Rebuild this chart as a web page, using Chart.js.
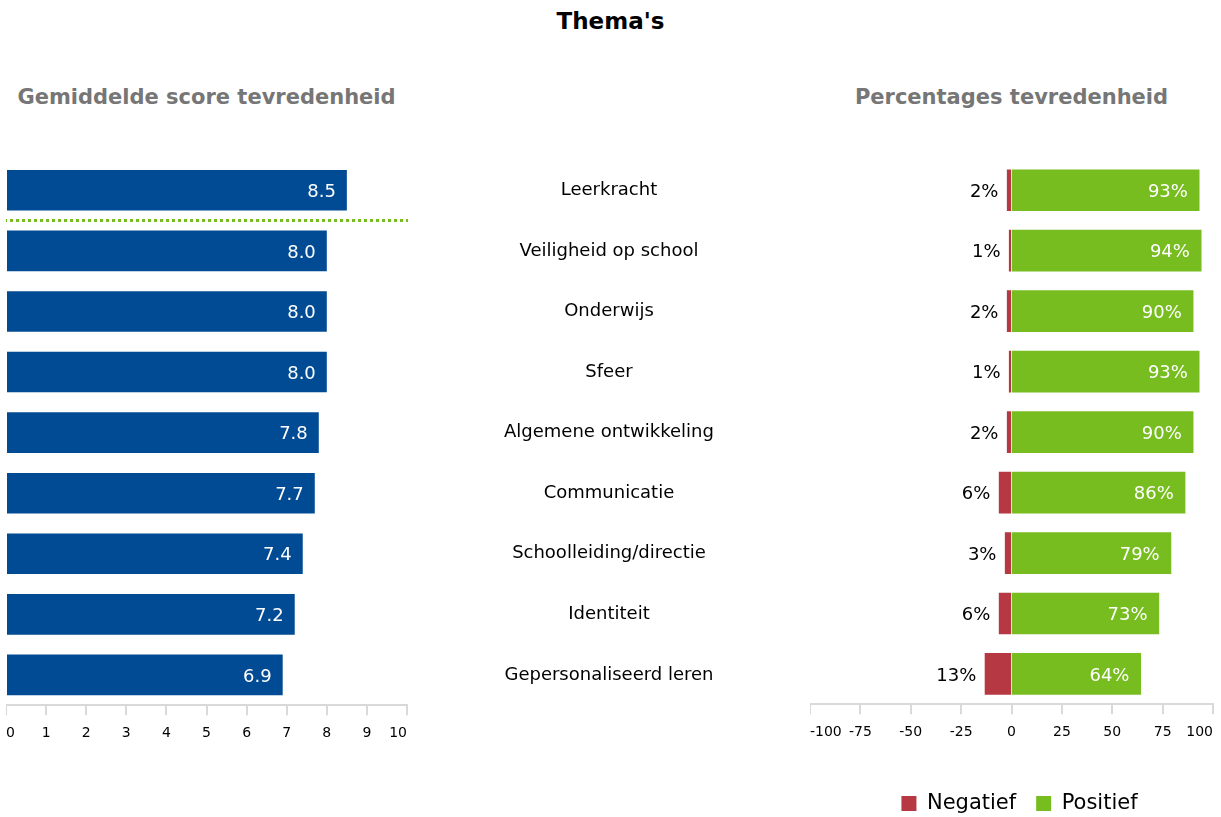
<!DOCTYPE html>
<html>
<head>
<meta charset="utf-8">
<script src="https://cdn.jsdelivr.net/npm/chart.js@4.4.1/dist/chart.umd.min.js"></script>
<style>
  body { margin: 0; background: #fff; font-family: "DejaVu Sans", sans-serif; }
  #pagina { position: relative; width: 1221px; height: 817px; overflow: hidden; }
  .kop { position: absolute; font-weight: bold; white-space: nowrap; text-align: center; }
  #titel { top: 8px; left: 0; width: 1221px; font-size: 23px; color: #000; }
  #sub1 { top: 85px; left: 6px; width: 401px; font-size: 21px; color: #767676; }
  #sub2 { top: 85px; left: 810px; width: 403px; font-size: 21px; color: #767676; }
  #links { position: absolute; left: 6px; top: 160px; width: 804px; height: 592px; }
  #rechts { position: absolute; left: 810px; top: 160px; width: 411px; height: 664px; }
</style>
</head>
<body>
<div id="pagina">
  <div id="titel" class="kop">Thema's</div>
  <div id="sub1" class="kop">Gemiddelde score tevredenheid</div>
  <div id="sub2" class="kop">Percentages tevredenheid</div>
  <div id="links"><canvas id="scoreChart"></canvas></div>
  <div id="rechts"><canvas id="procentChart"></canvas></div>
</div>
<script>
// gegevens
const themas = [
  "Leerkracht", "Veiligheid op school", "Onderwijs", "Sfeer",
  "Algemene ontwikkeling", "Communicatie", "Schoolleiding/directie",
  "Identiteit", "Gepersonaliseerd leren"
];
const gemiddeldeScore = [8.5, 8.0, 8.0, 8.0, 7.8, 7.7, 7.4, 7.2, 6.9];
const negatief = [2, 1, 2, 1, 2, 6, 3, 6, 13];
const positief = [93, 94, 90, 93, 90, 86, 79, 73, 64];

const BLAUW = "#004b93";
const GROEN = "#77bd1f";
const ROOD = "#b53843";
const GRIJS = "#d9d9d9";

Chart.defaults.font.family = '"DejaVu Sans", sans-serif';
Chart.defaults.color = "#000";

// labels op de balken
const waardeLabels = {
  id: "waardeLabels",
  afterDatasetsDraw(chart, args, opts) {
    const ctx = chart.ctx;
    ctx.save();
    ctx.font = '18px "DejaVu Sans"';
    ctx.textBaseline = "middle";
    ctx.textAlign = "right";
    chart.data.datasets.forEach((ds, i) => {
      chart.getDatasetMeta(i).data.forEach((bar, j) => {
        const v = ds.data[j];
        if (v < 0) {
          ctx.fillStyle = "#000";
          ctx.fillText(opts.fmt(-v), bar.x - 9, bar.y + 2);
        } else {
          ctx.fillStyle = "#fff";
          ctx.fillText(opts.fmt(v), bar.x - 11, bar.y + 2);
        }
      });
    });
    ctx.restore();
  }
};

// gestippelde lijn tussen twee thema's
const stippelLijn = {
  id: "stippelLijn",
  afterDatasetsDraw(chart, args, opts) {
    const y = chart.scales.y;
    const yp = (y.getPixelForValue(opts.na) + y.getPixelForValue(opts.na + 1)) / 2;
    const ctx = chart.ctx;
    ctx.save();
    ctx.strokeStyle = GROEN;
    ctx.lineWidth = 3;
    ctx.setLineDash([3, 3]);
    ctx.beginPath();
    ctx.moveTo(chart.chartArea.left - 2, yp);
    ctx.lineTo(chart.chartArea.right + 1, yp);
    ctx.stroke();
    ctx.restore();
  }
};

// legenda iets naar rechts
const legendaSchuif = {
  id: "legendaSchuif",
  afterLayout(chart, args, opts) {
    chart.legend.left += opts.dx;
    chart.legend.right += opts.dx;
  }
};

// geen extra ruimte naast de as
function geenZijPadding(scale) {
  scale.paddingLeft = 0;
  scale.paddingRight = 0;
}

new Chart(document.getElementById("scoreChart"), {
  type: "bar",
  data: {
    labels: themas,
    datasets: [{
      label: "Gemiddelde score",
      data: gemiddeldeScore,
      backgroundColor: BLAUW,
      borderWidth: 0,
      barPercentage: 0.67,
      categoryPercentage: 1
    }]
  },
  options: {
    indexAxis: "y",
    responsive: true,
    maintainAspectRatio: false,
    animation: false,
    layout: { padding: 0 },
    plugins: {
      legend: { display: false },
      tooltip: { enabled: false },
      waardeLabels: { fmt: v => v.toFixed(1) },
      stippelLijn: { na: 0 }
    },
    scales: {
      x: {
        min: 0,
        max: 10,
        ticks: { stepSize: 1, align: "inner", padding: 10, font: { size: 14 }, color: "#000" },
        grid: { drawOnChartArea: false, drawTicks: true, tickLength: 10, color: GRIJS, lineWidth: 2 },
        border: { color: GRIJS, width: 2 },
        afterFit: geenZijPadding
      },
      y: {
        position: "right",
        grid: { display: false, drawTicks: false },
        border: { display: false },
        ticks: { crossAlign: "center", padding: 97, font: { size: 18 }, color: "#000" },
        afterFit(scale) {
          scale.width = 403;
          scale.paddingTop = 0;
          scale.paddingBottom = 0;
        }
      }
    }
  },
  plugins: [waardeLabels, stippelLijn]
});

new Chart(document.getElementById("procentChart"), {
  type: "bar",
  data: {
    labels: themas,
    datasets: [
      {
        label: "Negatief",
        data: negatief.map(v => -v),
        backgroundColor: ROOD,
        borderWidth: 0,
        inflateAmount: 0.6,
        barPercentage: 0.67,
        categoryPercentage: 1
      },
      {
        label: "Positief",
        data: positief,
        backgroundColor: GROEN,
        borderWidth: 0,
        inflateAmount: 0.6,
        barPercentage: 0.67,
        categoryPercentage: 1
      }
    ]
  },
  options: {
    indexAxis: "y",
    responsive: true,
    maintainAspectRatio: false,
    animation: false,
    layout: { padding: { left: 0, right: 8, top: 0, bottom: 0 } },
    plugins: {
      legend: {
        position: "bottom",
        title: { display: true, text: "", font: { size: 10 }, padding: { top: 0, bottom: 10 } },
        labels: { boxWidth: 15, boxHeight: 15, padding: 20, font: { size: 21 }, color: "#000" }
      },
      legendaSchuif: { dx: 8 },
      tooltip: { enabled: false },
      waardeLabels: { fmt: v => v + "%" }
    },
    scales: {
      x: {
        stacked: true,
        min: -100,
        max: 100,
        ticks: { stepSize: 25, align: "inner", padding: 10, font: { size: 14 }, color: "#000" },
        grid: { drawOnChartArea: false, drawTicks: true, tickLength: 10, color: GRIJS, lineWidth: 2 },
        border: { color: GRIJS, width: 2 },
        afterFit: geenZijPadding
      },
      y: {
        stacked: true,
        display: false
      }
    }
  },
  plugins: [waardeLabels, legendaSchuif]
});
</script>
</body>
</html>
